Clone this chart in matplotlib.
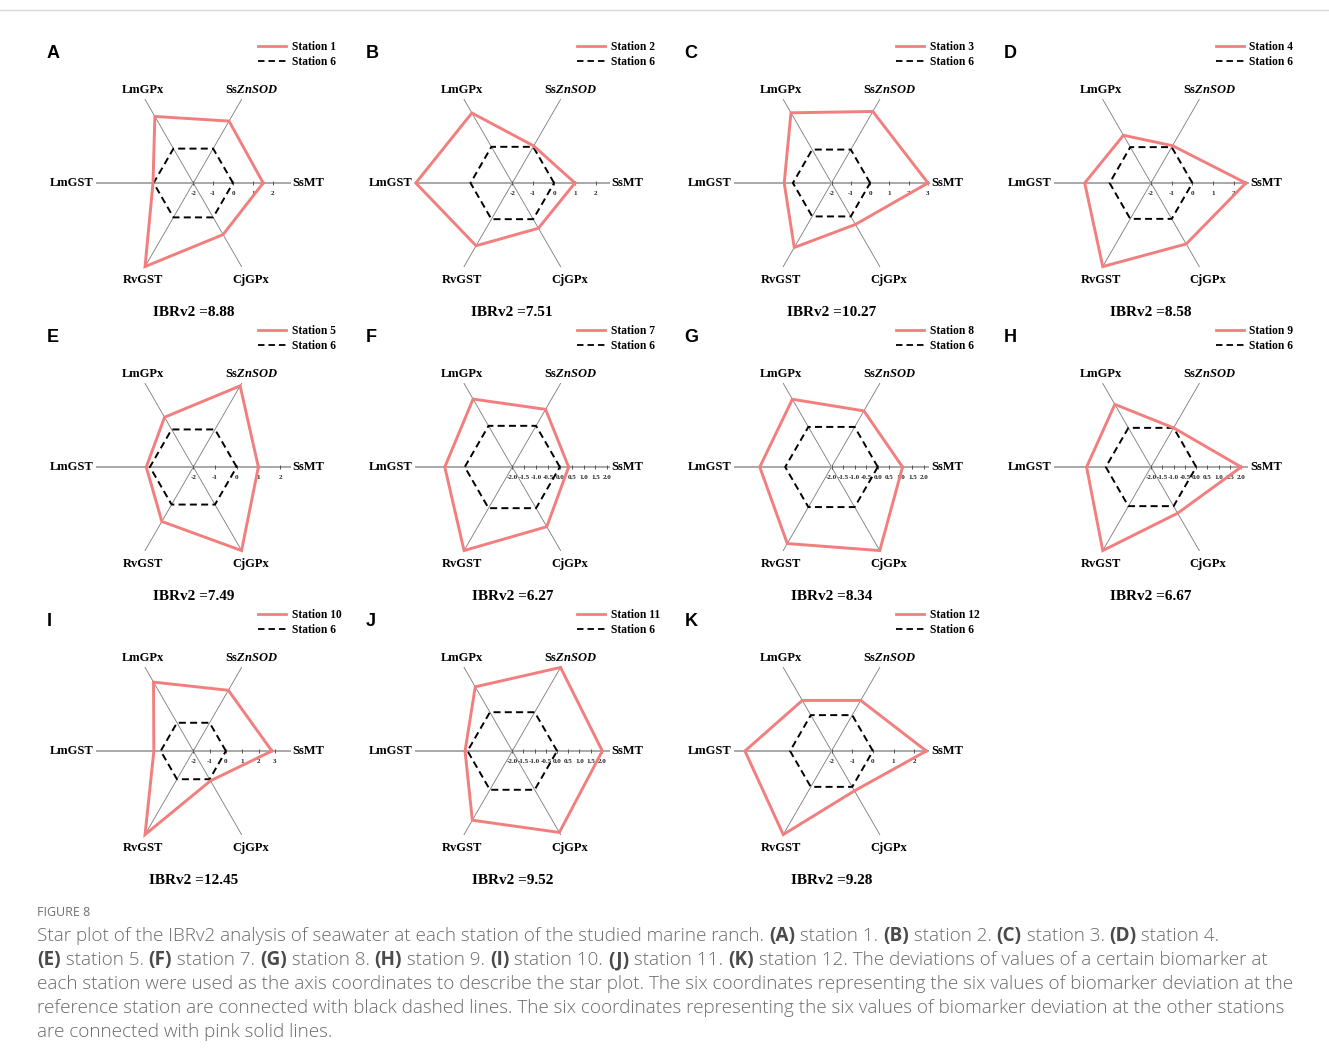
import numpy as np
import matplotlib
matplotlib.use("Agg")
import matplotlib.pyplot as plt
from matplotlib.lines import Line2D

plt.rcParams["mathtext.fontset"] = "custom"
plt.rcParams["mathtext.it"] = "Liberation Serif:bold:italic"
plt.rcParams["mathtext.rm"] = "Liberation Serif:bold"

# ---- data -------------------------------------------------------------
biomarkers = ["SsMT", r"Ss$\mathit{ZnSOD}$", "LmGPx", "LmGST", "RvGST", "CjGPx"]
axis_angles_deg = [0, 60, 120, 180, 240, 300]
panel_letters = ["A", "B", "C", "D", "E", "F", "G", "H", "I", "J", "K"]
stations = ["Station 1", "Station 2", "Station 3", "Station 4", "Station 5",
            "Station 7", "Station 8", "Station 9", "Station 10", "Station 11",
            "Station 12"]
reference_station = "Station 6"
reference_values = [0, 0, 0, 0, 0, 0]

# biomarker deviations, order: SsMT, SsZnSOD, LmGPx, LmGST, RvGST, CjGPx
dev_st1 = [1.52, 1.60, 1.87, 0.03, 2.86, 1.00]
dev_st2 = [1.00, 0.05, 1.87, 2.62, 1.47, 0.50]
dev_st3 = [3.00, 2.28, 2.20, 0.45, 1.86, 0.48]
dev_st4 = [2.58, 0.08, 0.66, 1.20, 2.66, 1.40]
dev_st5 = [1.00, 2.32, 0.65, 0.17, 0.90, 2.45]
dev_st7 = [0.37, 0.80, 1.30, 0.84, 2.06, 0.90]
dev_st8 = [1.07, 0.80, 1.38, 1.10, 1.82, 2.17]
dev_st9 = [1.99, 0.00, 1.20, 0.85, 2.27, 0.36]
dev_st10 = [2.82, 2.30, 2.88, 0.42, 3.92, 0.11]
dev_st11 = [2.02, 2.31, 1.31, 0.11, 1.57, 2.20]
dev_st12 = [2.58, 0.82, 0.82, 2.18, 2.66, 0.22]
deviations = [dev_st1, dev_st2, dev_st3, dev_st4, dev_st5, dev_st7,
              dev_st8, dev_st9, dev_st10, dev_st11, dev_st12]
tick_steps = [1, 1, 1, 1, 1, 0.5, 0.5, 0.5, 1, 0.5, 1]
axis_origin = -2

caption_title = "FIGURE 8"
caption_lines = [
    [("Star plot of the IBRv2 analysis of seawater at each station of the studied marine ranch. ", False),
     ("(A)", True), (" station 1. ", False), ("(B)", True), (" station 2. ", False),
     ("(C)", True), (" station 3. ", False), ("(D)", True), (" station 4.", False)],
    [("(E)", True), (" station 5. ", False), ("(F)", True), (" station 7. ", False),
     ("(G)", True), (" station 8. ", False), ("(H)", True), (" station 9. ", False),
     ("(I)", True), (" station 10. ", False), ("(J)", True), (" station 11. ", False),
     ("(K)", True), (" station 12. The deviations of values of a certain biomarker at", False)],
    [("each station were used as the axis coordinates to describe the star plot. The six coordinates "
      "representing the six values of biomarker deviation at the", False)],
    [("reference station are connected with black dashed lines. The six coordinates representing the "
      "six values of biomarker deviation at the other stations", False)],
    [("are connected with pink solid lines.", False)],
]

# ---- layout -----------------------------------------------------------
W, H = 1329, 1063
fig = plt.figure(figsize=(W / 100, H / 100), dpi=100)
PT = 0.72  # points per pixel at 100 dpi

col_x = [193.3, 512.3, 831.5, 1151.0]
row_y = [183.0, 467.0, 751.0]
R = 96.5

PINK = "#F27E7E"
serif = "Liberation Serif"

# label placement relative to the end of each spoke (pixels): dx, dy, ha, va
label_place = [
    (3, 0, "left", "center"),
    (10, 6, "center", "baseline"),
    (-2, 6, "center", "baseline"),
    (-3, 0, "right", "center"),
    (-2, -16, "center", "baseline"),
    (9, -16, "center", "baseline"),
]

fig.add_artist(Line2D([0, 1], [1 - 10 / H, 1 - 10 / H], color="#d9d9d9", lw=1.0))

theta = np.deg2rad(axis_angles_deg)
for i, vals in enumerate(deviations):
    cx = col_x[i % 4]
    cy = row_y[i // 4]
    ax = fig.add_axes([(cx - R) / W, 1 - (cy + R) / H, 2 * R / W, 2 * R / H],
                      projection="polar")
    ax.set_axis_off()
    rmax = max(vals)
    ax.set_ylim(axis_origin, rmax)

    # spokes
    for th in theta:
        if np.isclose(np.sin(th), 0):
            continue
        ax.plot([th, th], [axis_origin, rmax], color="#7a7a7a", lw=0.6,
                clip_on=False, zorder=1)
    for th in (theta[0], theta[3]):
        ax.plot([th, th], [axis_origin, rmax], color="#a8a8a8", lw=1.4,
                clip_on=False, zorder=1.5)

    # ticks along the SsMT axis
    step = tick_steps[i]
    ticks = np.arange(axis_origin, rmax + 1e-6, step)
    ax.plot(np.zeros_like(ticks), ticks, ls="none", marker="|", ms=3.0,
            mew=0.7, color="#555555", clip_on=False, zorder=2)
    for t in ticks:
        lbl = f"{t:.0f}" if step == 1 else f"{t:.1f}"
        ax.annotate(lbl, (0, t), xytext=(0, -10.5 * PT), textcoords="offset points",
                    ha="center", va="center", fontsize=5.0, family=serif,
                    fontweight="bold", color="#222222", annotation_clip=False)

    # reference and station polygons
    th_closed = np.append(theta, theta[0])
    ax.plot(th_closed, np.append(reference_values, reference_values[0]),
            color="black", lw=1.4, ls=(0, (3.6, 2.2)), clip_on=False, zorder=3)
    ax.plot(th_closed, np.append(vals, vals[0]), color=PINK, lw=2.1,
            solid_joinstyle="miter", clip_on=False, zorder=4)

    # biomarker labels
    for th, name, (dx, dy, ha, va) in zip(theta, biomarkers, label_place):
        ax.annotate(name, (th, rmax), xytext=(dx * PT, dy * PT),
                    textcoords="offset points", ha=ha, va=va, fontsize=9.0,
                    family=serif, fontweight="bold", color="black",
                    annotation_clip=False)

    # legend
    handles = [Line2D([], [], color=PINK, lw=2.0),
               Line2D([], [], color="black", lw=1.3, ls=(0, (3.6, 2.2)))]
    ax.legend(handles, [stations[i], reference_station], loc="upper left",
              bbox_to_anchor=((cx + 65) / W, 1 - (cy - 142) / H),
              bbox_transform=fig.transFigure, frameon=False, borderpad=0,
              borderaxespad=0, handlelength=2.4, handletextpad=0.5,
              labelspacing=0.22,
              prop=dict(family=serif, weight="bold", size=8.3))

    fig.text((cx - 147) / W, 1 - (cy - 129) / H, panel_letters[i], ha="left",
             va="center", family="Liberation Sans", fontweight="bold", fontsize=13)
    fig.text(cx / W, 1 - (cy + 129) / H, f"IBRv2 ={sum(vals):.2f}", ha="center",
             va="center", family=serif, fontweight="bold", fontsize=11)

# ---- caption ------------------------------------------------------------
renderer = fig.canvas.get_renderer()
cap_font = "Open Sans"
fig.text(37 / W, 1 - 912 / H, caption_title, ha="left", va="center",
         family=cap_font, fontsize=9.0, color="#707070")
for k, runs in enumerate(caption_lines):
    y = 936 + 24 * k
    x = 37.0
    for txt, bold in runs:
        t = fig.text(x / W, 1 - y / H, txt, ha="left", va="center", family=cap_font,
                     fontsize=13.6, fontweight="bold" if bold else "light",
                     color="#4a4a4a" if bold else "#6a6a6a")
        x += t.get_window_extent(renderer).width

fig.savefig("out.png", dpi=100)
